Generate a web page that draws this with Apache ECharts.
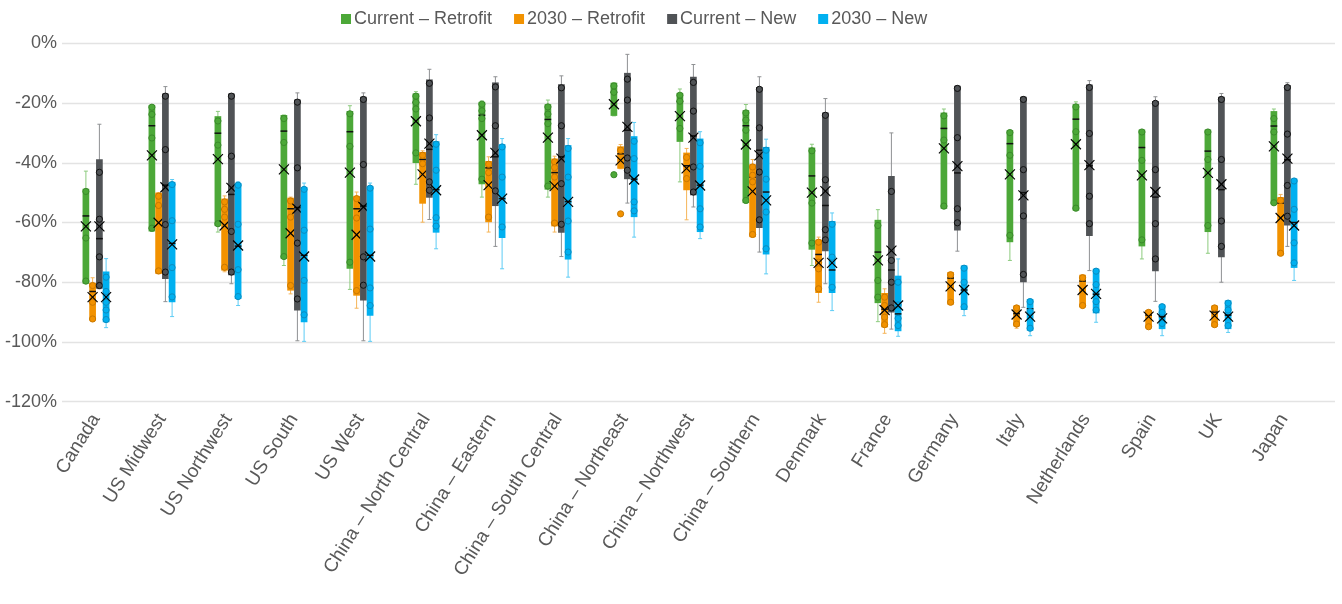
<!DOCTYPE html>
<html>
<head>
<meta charset="utf-8">
<script src="https://cdn.jsdelivr.net/npm/echarts@6/dist/echarts.min.js"></script>
<style>
  html, body { margin: 0; padding: 0; background: #fff; }
  #chart { width: 1342px; height: 604px; }
</style>
</head>
<body>
<div id="chart"></div>
<script>
// Categories along the x axis
const categories = [
  'Canada', 'US Midwest', 'US Northwest', 'US South', 'US West',
  'China – North Central', 'China – Eastern', 'China – South Central',
  'China – Northeast', 'China – Northwest', 'China – Southern',
  'Denmark', 'France', 'Germany', 'Italy', 'Netherlands', 'Spain', 'UK', 'Japan'
];

// Y-axis ticks (percent)
const yTicks = [0, -20, -40, -60, -80, -100, -120];

// Box statistics per category: [low whisker, Q1, median, Q3, high whisker, mean]
const currentRetrofit = [
  [-80.5, -80.5, -57.8, -48.7, -42.8, -61.3],
  [-63.0, -63.0, -27.6, -20.7, -20.7, -37.5],
  [-63.2, -61.2, -30.1, -24.4, -22.8, -38.8],
  [-74.4, -72.1, -29.4, -24.0, -24.0, -42.2],
  [-82.4, -75.5, -29.6, -22.7, -20.9, -43.3],
  [-47.2, -40.1, -19.8, -16.8, -16.2, -26.1],
  [-51.5, -47.2, -24.1, -19.6, -19.3, -30.8],
  [-51.5, -49.0, -25.5, -20.4, -19.0, -31.6],
  [-24.3, -24.3, -16.4, -13.2, -13.2, -20.4],
  [-46.4, -33.0, -19.5, -16.6, -15.3, -24.4],
  [-53.5, -53.5, -27.6, -22.4, -20.5, -33.9],
  [-74.4, -69.1, -44.4, -34.9, -33.8, -50.0],
  [-93.2, -87.0, -69.9, -59.1, -55.7, -72.7],
  [-55.4, -55.4, -28.5, -23.2, -22.0, -35.2],
  [-72.7, -66.6, -33.6, -29.1, -29.1, -43.9],
  [-56.0, -56.0, -25.4, -20.4, -19.6, -33.8],
  [-72.2, -68.0, -34.9, -28.9, -28.9, -44.2],
  [-70.3, -63.2, -36.1, -28.9, -28.9, -43.4],
  [-53.9, -53.9, -27.7, -22.7, -22.0, -34.5]
];
const retrofit2030 = [
  [-92.8, -92.8, -83.1, -80.2, -78.5, -85.0],
  [-77.2, -77.2, -54.5, -50.0, -50.0, -60.1],
  [-76.5, -76.1, -55.6, -52.0, -51.1, -61.0],
  [-83.9, -82.8, -55.4, -51.7, -51.5, -63.6],
  [-88.7, -84.5, -55.4, -51.1, -49.8, -64.1],
  [-59.9, -53.7, -38.9, -36.4, -36.0, -43.9],
  [-63.2, -59.9, -41.7, -39.4, -38.0, -47.5],
  [-63.2, -61.3, -43.3, -38.6, -37.8, -47.8],
  [-42.0, -42.0, -37.0, -34.5, -33.9, -39.2],
  [-59.1, -49.2, -41.0, -36.6, -35.2, -41.9],
  [-64.9, -64.9, -44.8, -40.5, -38.9, -49.6],
  [-86.7, -83.6, -70.7, -65.8, -64.9, -73.5],
  [-97.1, -95.1, -89.0, -83.6, -82.2, -89.3],
  [-87.5, -87.5, -78.6, -76.6, -76.6, -81.4],
  [-95.4, -94.8, -90.5, -87.8, -87.8, -90.8],
  [-88.4, -88.4, -79.6, -77.5, -77.5, -82.6],
  [-95.4, -95.4, -91.0, -89.3, -89.3, -91.5],
  [-94.9, -94.9, -90.0, -87.8, -87.8, -91.2],
  [-71.0, -71.0, -53.5, -51.5, -50.6, -58.5]
];
const currentNew = [
  [-82.2, -82.2, -65.4, -38.8, -27.1, -61.3],
  [-86.5, -78.9, -47.5, -16.8, -14.5, -48.2],
  [-80.5, -77.7, -50.6, -16.8, -16.8, -48.4],
  [-99.6, -89.5, -55.0, -18.8, -16.6, -55.4],
  [-99.6, -86.1, -54.5, -17.9, -16.6, -54.8],
  [-59.0, -51.7, -35.5, -12.1, -8.7, -33.6],
  [-68.0, -54.5, -38.0, -13.1, -11.2, -36.7],
  [-71.4, -63.4, -38.0, -13.7, -10.9, -38.6],
  [-53.5, -45.5, -29.1, -9.9, -3.7, -28.0],
  [-54.8, -50.9, -31.0, -11.2, -7.1, -31.6],
  [-69.9, -61.8, -35.8, -14.6, -11.2, -37.5],
  [-80.5, -69.6, -54.3, -23.2, -18.5, -49.5],
  [-95.7, -90.1, -75.9, -44.4, -30.0, -69.4],
  [-69.6, -62.7, -43.4, -14.2, -14.2, -41.1],
  [-88.4, -80.0, -50.0, -17.9, -17.9, -50.9],
  [-76.1, -64.5, -41.0, -13.8, -12.5, -40.8],
  [-86.4, -76.3, -51.5, -19.3, -17.9, -49.8],
  [-80.0, -71.6, -49.0, -17.9, -16.8, -47.2],
  [-68.0, -61.0, -39.0, -14.0, -13.2, -38.6]
];
const new2030 = [
  [-95.2, -93.4, -86.9, -76.4, -72.1, -85.0],
  [-91.5, -86.7, -67.0, -46.4, -45.6, -67.3],
  [-87.8, -85.6, -67.9, -46.8, -46.4, -67.7],
  [-99.8, -93.4, -71.0, -48.1, -46.8, -71.4],
  [-99.8, -91.2, -71.0, -47.8, -46.8, -71.4],
  [-68.8, -63.4, -49.0, -32.8, -30.6, -49.2],
  [-75.5, -65.2, -52.0, -33.8, -31.9, -52.0],
  [-78.3, -72.4, -53.0, -34.1, -31.9, -53.1],
  [-64.9, -58.2, -45.5, -31.1, -26.5, -45.6],
  [-65.4, -63.2, -47.5, -31.9, -29.6, -47.6],
  [-77.2, -70.7, -49.8, -34.7, -32.1, -52.6],
  [-89.5, -83.6, -75.9, -59.5, -56.8, -73.5],
  [-98.1, -96.4, -90.6, -77.8, -72.2, -87.8],
  [-91.2, -89.3, -82.6, -74.4, -74.4, -82.6],
  [-97.9, -96.2, -88.9, -85.6, -85.6, -91.5],
  [-93.4, -90.4, -84.0, -75.5, -75.5, -83.9],
  [-97.9, -95.7, -91.5, -87.5, -87.5, -92.1],
  [-96.8, -95.7, -91.0, -86.1, -86.1, -91.5],
  [-79.4, -75.2, -60.0, -45.3, -45.3, -61.0]
];

// Individual data points shown inside / outside each box
const currentRetrofitPoints = [
  [-49.6, -65.2, -79.6], [-21.4, -23.8, -31.7, -61.9], [-26.0, -34.1, -60.4],
  [-25.2, -33.2, -71.4], [-23.6, -34.5, -73.3], [-17.7, -19.8, -22.0, -36.7],
  [-20.4, -22.6, -25.2, -45.5], [-21.3, -23.7, -26.9, -47.8], [-14.3, -16.4, -44.0],
  [-17.4, -19.4, -28.5], [-23.3, -25.7, -29.1, -52.6], [-36.0, -53.5, -66.9],
  [-61.0, -79.4, -85.0], [-24.3, -32.4, -54.5], [-29.9, -37.5, -64.3],
  [-21.3, -29.6, -55.2], [-29.7, -39.2, -65.8], [-29.7, -38.9, -61.0],
  [-25.2, -29.7, -53.4]
];
const retrofit2030Points = [
  [-81.1, -86.7, -92.3], [-51.2, -54.3, -76.2], [-53.1, -55.6, -58.2, -75.0],
  [-52.8, -58.2, -81.1], [-52.0, -58.5, -82.8], [-37.5, -40.3],
  [-40.5, -43.3, -58.2], [-39.7, -41.6, -44.8, -60.2], [-35.8, -57.1],
  [-38.2, -45.3], [-41.4, -44.2, -46.4, -64.0], [-66.6, -73.3, -75.5, -82.2],
  [-85.0, -87.8, -91.7, -94.2], [-77.5, -86.7], [-88.6, -94.0],
  [-78.5, -87.8], [-90.1, -94.9], [-88.6, -94.2], [-52.6, -70.3]
];
const currentNewPoints = [
  [-43.2, -58.9, -71.5, -81.1], [-17.7, -35.6, -60.7, -76.6], [-17.7, -37.8, -63.0, -76.6],
  [-19.7, -41.7, -66.9, -85.6], [-18.8, -40.6, -71.5, -81.0], [-13.4, -25.0, -46.4, -49.2],
  [-14.6, -27.6, -49.4], [-14.9, -27.6, -47.0, -60.6], [-12.0, -19.0, -38.4, -42.5],
  [-13.1, -22.7, -41.4, -49.8], [-15.4, -28.3, -43.1, -59.1], [-24.1, -45.7, -62.4, -65.8],
  [-49.6, -72.7, -80.0, -88.6], [-15.1, -31.6, -55.4, -60.1], [-18.8, -42.3, -57.8, -77.4],
  [-14.8, -30.2, -51.2, -60.4], [-20.1, -42.3, -60.4, -72.2], [-18.8, -38.9, -59.5, -68.0],
  [-14.8, -30.4, -47.6, -57.9]
];
const new2030Points = [
  [-78.3, -83.1, -86.7, -89.3, -92.5], [-47.3, -59.4, -75.1, -84.9], [-47.5, -60.6, -75.8, -84.8],
  [-48.9, -62.6, -79.4, -90.9], [-48.5, -62.2, -81.9, -87.8], [-33.8, -42.5, -58.4, -61.2],
  [-34.7, -44.8, -61.5], [-35.2, -44.8, -59.5, -69.9], [-32.8, -38.6, -53.1, -56.1],
  [-33.3, -41.2, -55.4, -61.5], [-35.8, -45.5, -56.5, -68.8], [-60.6, -71.6, -81.7],
  [-80.0, -87.6, -92.1, -94.5], [-75.3, -80.0, -88.2], [-86.5, -89.8, -95.4],
  [-76.3, -80.8, -86.5, -89.3], [-88.2, -90.1, -93.8], [-87.0, -89.3, -94.5],
  [-46.1, -55.6, -66.8, -73.5]
];

const FONT = "'Liberation Sans', Arial, sans-serif";
const TEXT = '#595959';
const BOX_W = 6.7;

const seriesDefs = [
  { name: 'Current – Retrofit', stats: currentRetrofit, points: currentRetrofitPoints,
    fill: '#4ca838', whisker: '#8ccb7e', ring: '#3b8a2b', offset: -10.1 },
  { name: '2030 – Retrofit', stats: retrofit2030, points: retrofit2030Points,
    fill: '#f29200', whisker: '#f5b55a', ring: '#c97800', offset: -3.4 },
  { name: 'Current – New', stats: currentNew, points: currentNewPoints,
    fill: '#505356', whisker: '#8f9193', ring: '#111111', offset: 3.4 },
  { name: '2030 – New', stats: new2030, points: new2030Points,
    fill: '#00b0f0', whisker: '#5cccf5', ring: '#0a8cc0', offset: 10.1 }
];

function boxRenderer(def) {
  return function (params, api) {
    const i = api.value(0);
    const s = def.stats[i];
    const cx = api.coord([i, 0])[0] + def.offset;
    const Y = v => api.coord([i, v])[1];
    const lo = Y(s[0]), q1 = Y(s[1]), med = Y(s[2]), q3 = Y(s[3]), hi = Y(s[4]), mean = Y(s[5]);
    const half = BOX_W / 2;
    const cap = 2;
    const children = [];
    // whiskers with caps
    children.push({ type: 'line', shape: { x1: cx, y1: hi, x2: cx, y2: lo },
      style: { stroke: def.whisker, lineWidth: 1 } });
    children.push({ type: 'line', shape: { x1: cx - cap, y1: hi, x2: cx + cap, y2: hi },
      style: { stroke: def.whisker, lineWidth: 1 } });
    children.push({ type: 'line', shape: { x1: cx - cap, y1: lo, x2: cx + cap, y2: lo },
      style: { stroke: def.whisker, lineWidth: 1 } });
    // box
    children.push({ type: 'rect', shape: { x: cx - half, y: q3, width: BOX_W, height: q1 - q3 },
      style: { fill: def.fill } });
    // median
    children.push({ type: 'line', shape: { x1: cx - half, y1: med, x2: cx + half, y2: med },
      style: { stroke: '#111', lineWidth: 1.5 } });
    // data points
    def.points[i].forEach(function (p) {
      children.push({ type: 'circle', shape: { cx: cx, cy: Y(p), r: 3.1 },
        style: { fill: def.fill, stroke: def.ring, lineWidth: 1 } });
    });
    // mean marker (X)
    const m = 5;
    children.push({ type: 'line', shape: { x1: cx - m, y1: mean - m, x2: cx + m, y2: mean + m },
      style: { stroke: '#000', lineWidth: 1.2 } });
    children.push({ type: 'line', shape: { x1: cx - m, y1: mean + m, x2: cx + m, y2: mean - m },
      style: { stroke: '#000', lineWidth: 1.2 } });
    return { type: 'group', children: children };
  };
}

const chart = echarts.init(document.getElementById('chart'), null, { renderer: 'canvas' });

const yAxisCommon = {
  type: 'value', min: -120, max: 0, interval: 20
};

chart.setOption({
  animation: false,
  backgroundColor: '#ffffff',
  textStyle: { fontFamily: FONT },
  legend: {
    top: 5, left: 336,
    itemWidth: 10, itemHeight: 10, itemGap: 22,
    icon: 'rect',
    textStyle: { fontFamily: FONT, fontSize: 18, color: TEXT, padding: [0, 0, 0, -2] },
    data: seriesDefs.map(d => ({ name: d.name, itemStyle: { color: d.fill } }))
  },
  grid: [
    // gridline frame (spans the full plot width)
    { left: 62, right: 7, top: 43.3, bottom: 202.3, containLabel: false },
    // data area
    { left: 63, right: 25, top: 43.3, bottom: 202.3, containLabel: false }
  ],
  xAxis: [
    { gridIndex: 0, type: 'value', show: false, min: 0, max: 1 },
    {
      gridIndex: 1, type: 'category', data: categories, boundaryGap: true,
      axisLine: { show: false }, axisTick: { show: false },
      axisLabel: {
        rotate: 58, interval: 0, margin: 14,
        fontFamily: FONT, fontSize: 19, color: TEXT
      },
      splitLine: { show: false }
    }
  ],
  yAxis: [
    Object.assign({ gridIndex: 0 }, yAxisCommon, {
      axisLine: { show: false }, axisTick: { show: false },
      axisLabel: {
        fontFamily: FONT, fontSize: 18, color: TEXT, margin: 5,
        padding: [8, 0, 0, 0],
        formatter: v => (yTicks.indexOf(v) >= 0 ? v + '%' : '')
      },
      splitLine: { show: true, lineStyle: { color: '#e3e3e3', width: 1.3 } }
    }),
    Object.assign({ gridIndex: 1 }, yAxisCommon, {
      show: false, splitLine: { show: false }
    })
  ],
  series: seriesDefs.map(def => ({
    type: 'custom',
    name: def.name,
    xAxisIndex: 1, yAxisIndex: 1,
    itemStyle: { color: def.fill },
    renderItem: boxRenderer(def),
    encode: { x: 0, y: [1, 2, 3, 4, 5] },
    data: categories.map((c, i) => [i].concat(def.stats[i].slice(0, 5)))
  }))
});
</script>
</body>
</html>
